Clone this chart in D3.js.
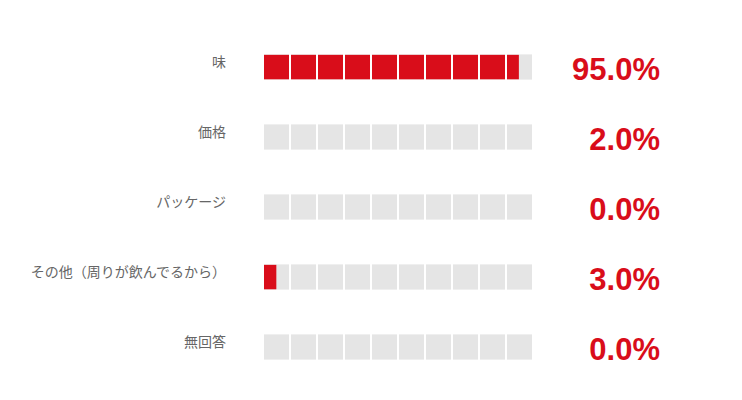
<!DOCTYPE html>
<html>
<head>
<meta charset="utf-8">
<script src="https://cdn.jsdelivr.net/npm/d3@7"></script>
<style>
  body { margin: 0; background: #fff; }
  svg { display: block; }
</style>
</head>
<body>
<svg id="chart"></svg>
<script>
// 回答項目と割合
const categories = ['味', '価格', 'パッケージ', 'その他（周りが飲んでるから）', '無回答'];
const percents = [95.0, 2.0, 0.0, 3.0, 0.0];
// 棒の長さ
const barPercents = [95.1, 0.0, 0.0, 4.6, 0.0];
const cellCount = 10;

const width = 742;
const height = 400;
const red = '#d90d1a';
const gray = '#e5e5e5';

const svg = d3.select('#chart')
    .attr('width', width)
    .attr('height', height);

// 行の位置
const y = d3.scaleBand()
    .domain(categories)
    .range([32, 382])
    .paddingInner(0.64)
    .paddingOuter(0.32);

// 割合 -> 横位置
const x = d3.scaleLinear()
    .domain([0, 100])
    .range([264, 532]);

const gap = 2;
const cellW = (x(100) - x(0) + gap) / cellCount;
const cells = d3.range(cellCount);

const row = svg.selectAll('g.row')
    .data(categories)
    .enter().append('g')
    .attr('class', 'row')
    .attr('transform', d => `translate(0,${y(d)})`);

// 灰色のセル
row.selectAll('rect.bg')
    .data(cells)
    .enter().append('rect')
    .attr('class', 'bg')
    .attr('x', i => x(0) + i * cellW)
    .attr('width', cellW - gap)
    .attr('height', y.bandwidth())
    .attr('fill', gray);

// 赤い部分（セルで切り抜き）
row.each(function (d, ri) {
    const g = d3.select(this);
    const clipId = 'clip' + ri;
    g.append('clipPath')
        .attr('id', clipId)
        .selectAll('rect')
        .data(cells)
        .enter().append('rect')
        .attr('x', i => x(0) + i * cellW)
        .attr('width', cellW - gap)
        .attr('height', y.bandwidth());
    g.append('rect')
        .attr('clip-path', `url(#${clipId})`)
        .attr('x', x(0))
        .attr('width', x(barPercents[ri]) - x(0))
        .attr('height', y.bandwidth())
        .attr('fill', red);
});

// ラベル
row.append('text')
    .attr('x', 226)
    .attr('y', y.bandwidth() / 2 - 4.5)
    .attr('dy', '0.35em')
    .attr('text-anchor', 'end')
    .attr('fill', '#666')
    .style('font-family', '"Noto Sans CJK JP", sans-serif')
    .style('font-size', '14px')
    .text(d => d);

// 割合
row.append('text')
    .attr('x', 660)
    .attr('y', y.bandwidth() + 0.5)
    .attr('text-anchor', 'end')
    .attr('fill', red)
    .style('font-family', '"Liberation Sans", Arial, sans-serif')
    .style('font-weight', 'bold')
    .style('font-size', '31px')
    .text((d, i) => percents[i].toFixed(1) + '%');
</script>
</body>
</html>
